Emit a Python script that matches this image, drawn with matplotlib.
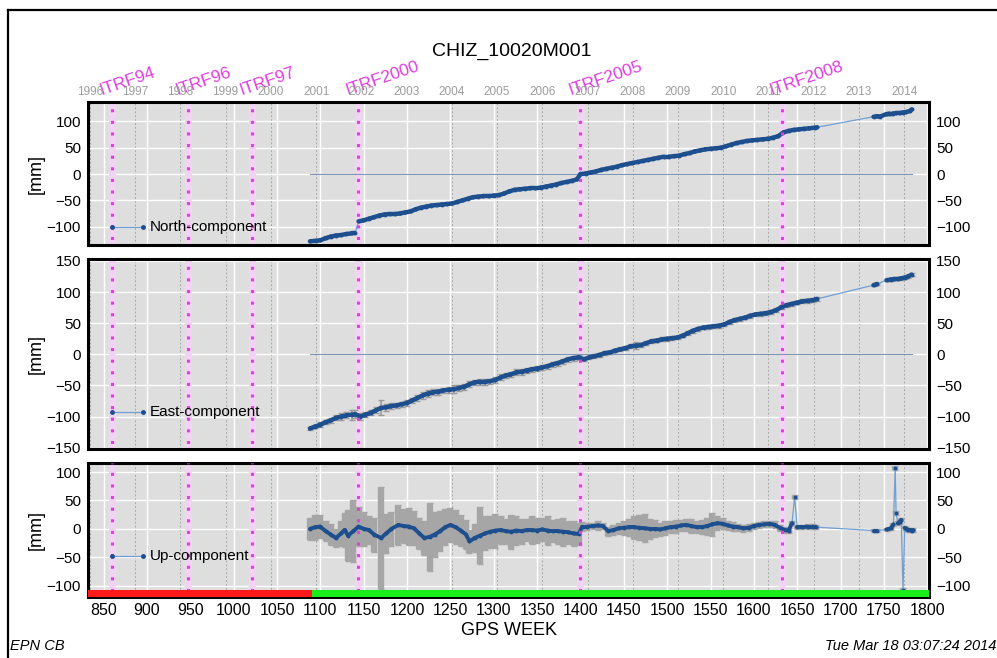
import datetime
import numpy
from matplotlib import pyplot, transforms
from matplotlib.lines import Line2D
from matplotlib.collections import LineCollection

pyplot.rcParams['font.family'] = ['Liberation Sans', 'DejaVu Sans']

# DATA (GPS week, mm)
north_week = [1088, 1095, 1100, 1106, 1112, 1118, 1124, 1130, 1136, 1140,
              1144, 1150, 1156, 1162, 1168, 1174, 1180, 1186, 1192, 1198,
              1204, 1210, 1216, 1222, 1228, 1234, 1240, 1246, 1252, 1258,
              1264, 1270, 1276, 1282, 1288, 1294, 1300, 1306, 1312, 1318,
              1324, 1330, 1336, 1342, 1348, 1354, 1360, 1366, 1372, 1378,
              1384, 1390, 1396, 1400, 1406, 1412, 1418, 1424, 1430, 1436,
              1442, 1448, 1454, 1460, 1466, 1472, 1478, 1484, 1490, 1496,
              1502, 1508, 1514, 1520, 1526, 1532, 1538, 1544, 1550, 1556,
              1562, 1568, 1574, 1580, 1586, 1592, 1598, 1604, 1610, 1616,
              1622, 1628, 1634, 1640, 1646, 1652, 1658, 1664, 1670, 1673,
              1738, 1742, 1745, 1753, 1756, 1760, 1764, 1768, 1772, 1776,
              1780, 1782]
north_mm = [-128, -127, -126, -122, -119, -117, -116, -114, -113, -113,
            -90, -88, -85, -82, -79, -77, -76, -76, -75, -73,
            -71, -67, -64, -62, -60, -59, -58, -57, -56, -53,
            -50, -47, -44, -43, -42, -42, -41, -40, -37, -33,
            -30, -29, -28, -27, -27, -26, -24, -22, -20, -17,
            -15, -13, -10, 0, 1, 3, 5, 8, 10, 12,
            14, 17, 19, 21, 23, 25, 27, 29, 31, 33,
            33, 34, 35, 38, 40, 43, 45, 47, 48, 49,
            50, 53, 56, 59, 61, 63, 64, 65, 66, 67,
            69, 72, 79, 82, 84, 85, 86, 87, 88, 89,
            109, 110, 109, 114, 115, 115, 116, 116, 117, 118,
            120, 123]

east_week = [1088, 1094, 1100, 1106, 1112, 1118, 1124, 1130, 1136, 1140,
             1146, 1152, 1158, 1164, 1170, 1176, 1182, 1188, 1194, 1200,
             1206, 1212, 1218, 1224, 1230, 1236, 1242, 1248, 1254, 1260,
             1266, 1272, 1278, 1284, 1290, 1296, 1302, 1308, 1314, 1320,
             1326, 1332, 1338, 1344, 1350, 1356, 1362, 1368, 1374, 1380,
             1386, 1392, 1398, 1404, 1410, 1416, 1422, 1428, 1434, 1440,
             1446, 1452, 1458, 1464, 1470, 1476, 1482, 1488, 1494, 1500,
             1506, 1512, 1518, 1524, 1530, 1536, 1542, 1548, 1554, 1560,
             1566, 1572, 1578, 1584, 1590, 1596, 1602, 1608, 1614, 1620,
             1626, 1632, 1638, 1644, 1650, 1656, 1662, 1668, 1673,
             1738, 1742, 1753, 1758, 1762, 1766, 1770, 1774, 1778, 1782]
east_mm = [-119, -116, -113, -109, -106, -102, -100, -98, -97, -96,
           -100, -97, -94, -90, -86, -85, -83, -82, -80, -78,
           -74, -70, -66, -63, -61, -60, -58, -57, -56, -54,
           -52, -48, -45, -44, -44, -43, -41, -37, -34, -32,
           -29, -28, -26, -24, -23, -21, -19, -16, -14, -11,
           -8, -6, -5, -8, -5, -3, -1, 2, 3, 6,
           8, 10, 13, 14, 15, 18, 21, 22, 24, 25,
           26, 27, 30, 34, 38, 41, 43, 44, 45, 46,
           48, 52, 55, 57, 59, 62, 64, 65, 66, 68,
           71, 76, 79, 81, 83, 85, 86, 87, 89,
           111, 113, 119, 120, 121, 121, 122, 123, 125, 128]
east_err = [3, 3, 4, 3, 4, 4, 5, 5, 8, 6,
            5, 4, 4, 5, 12, 6, 5, 4, 4, 5,
            4, 5, 6, 6, 5, 5, 4, 5, 6, 5,
            5, 5, 4, 5, 5, 4, 5, 5, 4, 4,
            5, 5, 4, 4, 4, 4, 4, 4, 4, 4,
            4, 4, 4, 3, 3, 3, 3, 3, 3, 3,
            3, 3, 3, 6, 3, 3, 3, 3, 3, 3,
            3, 3, 3, 3, 3, 3, 3, 3, 3, 3,
            3, 3, 3, 3, 3, 3, 3, 3, 3, 3,
            3, 3, 3, 3, 3, 3, 3, 3, 3,
            2, 2, 2, 2, 2, 2, 2, 2, 2, 2]

up_week = [1088, 1094, 1100, 1106, 1112, 1118, 1124, 1128, 1132, 1138,
           1144, 1150, 1156, 1162, 1170, 1176, 1182, 1190, 1196, 1202,
           1208, 1214, 1220, 1226, 1232, 1238, 1244, 1250, 1256, 1262,
           1268, 1272, 1278, 1284, 1290, 1296, 1302, 1308, 1314, 1320,
           1326, 1332, 1338, 1344, 1350, 1356, 1362, 1368, 1374, 1380,
           1386, 1392, 1398, 1402, 1408, 1414, 1420, 1426, 1432, 1438,
           1444, 1450, 1456, 1462, 1468, 1474, 1480, 1486, 1492, 1498,
           1504, 1510, 1516, 1522, 1528, 1534, 1540, 1546, 1552, 1558,
           1564, 1570, 1576, 1582, 1588, 1594, 1600, 1606, 1612, 1618,
           1624, 1630, 1636, 1640, 1644, 1647, 1650, 1656, 1662, 1668,
           1672, 1738, 1742, 1753, 1758, 1761, 1763, 1764, 1766, 1768,
           1770, 1772, 1774, 1776, 1778, 1780, 1782, 1784]
up_mm = [0, 3, 4, -4, -10, -16, -8, -2, -12, -4,
         4, 0, -2, -10, -16, -8, 0, 7, 5, 4,
         1, -8, -16, -14, -10, -4, 3, 7, 3, -3,
         -10, -22, -16, -12, -8, -5, -3, -2, -4, -5,
         -3, -4, -2, -2, -3, -1, -3, -4, -4, -5,
         -6, -8, -9, 4, 4, 5, 6, 5, -4, -2,
         1, 2, 3, 3, 2, 1, 0, 0, -1, 1,
         3, 4, 6, 7, 5, 3, 3, 5, 8, 10,
         9, 6, 4, 3, 1, 2, 5, 7, 8, 9,
         7, 2, -2, -3, 10, 56, 3, 3, 4, 4,
         3, -3, -3, -1, 1, 8, 107, 28, 10, 12,
         16, -108, 2, 0, -2, -2, -3, -2]
up_err = [20, 22, 20, 18, 18, 16, 22, 30, 45, 55,
          35, 30, 25, 30, 90, 35, 30, 35, 30, 32,
          30, 28, 30, 60, 40, 35, 32, 30, 30, 28,
          25, 20, 25, 50, 30, 28, 30, 25, 22, 30,
          25, 22, 20, 25, 22, 20, 25, 20, 22, 25,
          20, 22, 20, 8, 6, 6, 8, 6, 8, 8,
          10, 12, 15, 20, 22, 25, 18, 15, 12, 12,
          10, 12, 10, 10, 12, 10, 12, 15, 20, 12,
          10, 8, 8, 6, 6, 6, 5, 5, 5, 5,
          6, 5, 5, 5, 4, 4, 4, 4, 4, 4,
          4, 3, 3, 3, 3, 3, 3, 3, 3, 3,
          3, 3, 3, 3, 3, 3, 3, 3]

itrf_names = ['ITRF94', 'ITRF96', 'ITRF97', 'ITRF2000', 'ITRF2005', 'ITRF2008']
itrf_weeks = [860, 947, 1021, 1143, 1400, 1632]

years = list(range(1996, 2015))
red_span = [832, 1090]
green_span = [1090, 1802]

# COLOURS
DARKBLUE = '#1d4f8e'
LINEBLUE = '#6f9fd4'
MAGENTA = '#e23ce2'
PANELBG = '#dedede'

# FIGURE
fig = pyplot.figure(figsize=(9.97, 6.58), dpi=100)
W, H = 997.0, 658.0


def add_panel(top, bottom):
    return fig.add_axes([88 / W, 1 - bottom / H, (929 - 88) / W, (bottom - top) / H])


def draw_series(ax, weeks, vals, maxgap=10, lw=3.2):
    # thin connecting line everywhere, thick dark line where the data is dense
    ax.plot(weeks, vals, color=LINEBLUE, linewidth=0.9, zorder=3)
    segs = []
    for i in range(len(weeks) - 1):
        if weeks[i + 1] - weeks[i] <= maxgap and abs(vals[i + 1] - vals[i]) < 15:
            segs.append([(weeks[i], vals[i]), (weeks[i + 1], vals[i + 1])])
    ax.add_collection(LineCollection(segs, colors=DARKBLUE, linewidths=lw,
                                     capstyle='round', zorder=3.2))
    ax.plot(weeks, vals, 'o', color=DARKBLUE, markersize=2.8,
            markeredgewidth=0, linestyle='none', zorder=3.3)


ax1 = add_panel(102, 245)
ax2 = add_panel(259, 449)
ax3 = add_panel(463, 597)
axes = [ax1, ax2, ax3]

xlim = (832, 1802)
year_weeks = [(datetime.date(y, 1, 1) - datetime.date(1980, 1, 6)).days / 7.0 for y in years]

for ax in axes:
    ax.set_facecolor(PANELBG)
    ax.set_xlim(xlim)
    ax.set_axisbelow(True)
    ax.set_xticks(numpy.arange(850, 1801, 50))
    ax.grid(True, color='white', linewidth=1.0)
    for yw in year_weeks:
        ax.axvline(yw, color='#a8a8a8', linewidth=0.7, linestyle=(0, (2, 2)), zorder=0.5)
    for sp in ax.spines.values():
        sp.set_linewidth(2.2)
    ax.tick_params(length=0, labelsize=11, labelright=True, pad=5)
    ax.set_ylabel('[mm]', fontsize=13)
    ax.yaxis.set_label_coords(-0.051, 0.5)
    # ITRF realisation changes
    for w in itrf_weeks:
        ax.axvline(w, color='#f3d3f3', linewidth=5, zorder=0.6)
        ax.axvline(w, color=MAGENTA, linewidth=2.2, linestyle=(2, (1, 2.8)),
                   dash_capstyle='butt', zorder=4)

for ax in [ax1, ax2]:
    ax.tick_params(labelbottom=False)

# panel ranges
ax1.set_ylim(-135, 137)
ax1.set_yticks([-100, -50, 0, 50, 100])
ax2.set_ylim(-152, 153)
ax2.set_yticks([-150, -100, -50, 0, 50, 100, 150])
ax3.set_ylim(-120, 116)
ax3.set_yticks([-100, -50, 0, 50, 100])

# zero reference
for ax in [ax1, ax2]:
    ax.plot([north_week[0], north_week[-1]], [0, 0], color='#7a95b5', linewidth=0.8, zorder=2)

# NORTH
draw_series(ax1, north_week, north_mm)

# EAST
ax2.errorbar(east_week, east_mm, yerr=east_err, fmt='none', ecolor='#9a9a9a',
             elinewidth=1.2, capsize=2, zorder=2.5)
draw_series(ax2, east_week, east_mm)

# UP
ax3.errorbar(up_week, up_mm, yerr=up_err, fmt='none', ecolor='#a6a6a6',
             elinewidth=4.6, capsize=2.5, capthick=1, zorder=2.5)
draw_series(ax3, up_week, up_mm, lw=2.8)

# red / green bar
ax3.axvspan(red_span[0], red_span[1], ymin=0, ymax=0.05, color='#ff1a1a', zorder=5, linewidth=0)
ax3.axvspan(green_span[0], green_span[1], ymin=0, ymax=0.05, color='#1aee1a', zorder=5, linewidth=0)

ax3.set_xlabel('GPS WEEK', fontsize=13, labelpad=3)
ax3.tick_params(axis='x', labelsize=11.5, pad=4)

# legends
legend_y = [-100, -92, -48]
legend_txt = ['North-component', 'East-component', 'Up-component']
for ax, ly, txt in zip(axes, legend_y, legend_txt):
    ax.plot([860, 895], [ly, ly], color=LINEBLUE, linewidth=0.9, zorder=6)
    ax.plot([860, 895], [ly, ly], 'o', color=DARKBLUE, markersize=2.5, zorder=6)
    ax.text(903, ly, txt, fontsize=11, va='center', ha='left', zorder=6)

# top year axis
top = ax1.twiny()
top.set_xlim(xlim)
top.set_xticks(year_weeks)
top.set_xticklabels([str(y) for y in years])
top.tick_params(length=0, labelsize=8.5, labelcolor='#9c9c9c', pad=3)
for sp in top.spines.values():
    sp.set_visible(False)

# ITRF labels
trans = transforms.blended_transform_factory(ax1.transData, ax1.transAxes)
for name, w in zip(itrf_names, itrf_weeks):
    ax1.text(w - 12, 1.05, name, color=MAGENTA, fontsize=12.5, rotation=19,
             rotation_mode='anchor', ha='left', va='baseline', transform=trans,
             clip_on=False, zorder=10)

fig.text(512 / W, 1 - 51 / H, 'CHIZ_10020M001', fontsize=14, ha='center', va='center')
fig.text(10 / W, 1 - 646 / H, 'EPN CB', fontsize=10.5, style='italic', ha='left', va='center')
fig.text(996 / W, 1 - 646 / H, 'Tue Mar 18 03:07:24 2014', fontsize=10.5, style='italic',
         ha='right', va='center')

# outer frame
fig.add_artist(Line2D([8 / W, 1.0], [1 - 10 / H, 1 - 10 / H], color='black', linewidth=1.6))
fig.add_artist(Line2D([8 / W, 8 / W], [0.0, 1 - 10 / H], color='black', linewidth=1.6))

fig.savefig('out.png', dpi=100)
